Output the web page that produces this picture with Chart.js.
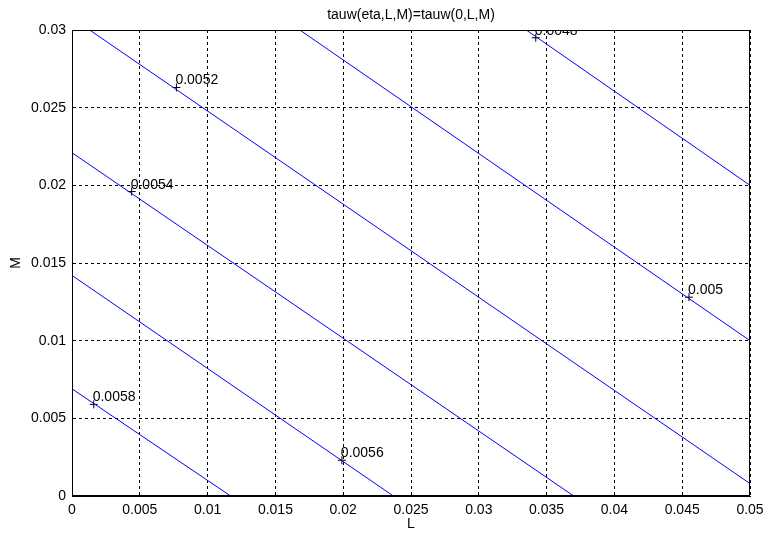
<!DOCTYPE html>
<html>
<head>
<meta charset="utf-8">
<script src="https://cdn.jsdelivr.net/npm/chart.js@4"></script>
<style>
  html, body { margin: 0; padding: 0; background: #fff; }
  #wrap { width: 764px; height: 533px; }
</style>
</head>
<body>
<div id="wrap"><canvas id="chart" width="764" height="533"></canvas></div>
<script>
  // contour levels and where each straight contour crosses the axes box
  const levels     = ['0.0058', '0.0056', '0.0054', '0.0052', '0.005', '0.0048'];
  const lineStartL = [0,      0,      0,      0.0013, 0.0168, 0.0335];
  const lineStartM = [0.0069, 0.0142, 0.0221, 0.03,   0.03,   0.03];
  const lineEndL   = [0.0117, 0.0237, 0.0370, 0.05,   0.05,   0.05];
  const lineEndM   = [0,      0,      0,      0.0008, 0.0100, 0.0200];

  // clabel '+' markers
  const markL = [0.0016, 0.0199, 0.0044, 0.0077, 0.0455, 0.0342];
  const markM = [0.0059, 0.0023, 0.0196, 0.0263, 0.0128, 0.0295];

  const L_TICKS = [0, 0.005, 0.01, 0.015, 0.02, 0.025, 0.03, 0.035, 0.04, 0.045, 0.05];
  const M_TICKS = [0, 0.005, 0.01, 0.015, 0.02, 0.025, 0.03];

  const FONT = { family: "'Liberation Sans', Arial, sans-serif", size: 14 };
  const INK  = '#000';

  const datasets = levels.map((lv, i) => ({
    label: lv,
    data: [
      { x: lineStartL[i], y: lineStartM[i] },
      { x: lineEndL[i],   y: lineEndM[i] },
    ],
    showLine: true,
    borderColor: '#0000ff',
    borderWidth: 1,
    pointRadius: 0,
    fill: false,
  }));

  datasets.push({
    label: 'marks',
    data: markL.map((l, i) => ({ x: l, y: markM[i] })),
    showLine: false,
    pointStyle: 'cross',
    pointRadius: 4,
    pointBorderColor: INK,
    pointBorderWidth: 1,
  });

  const clabels = {
    id: 'clabels',
    afterDatasetsDraw(chart) {
      const { ctx, chartArea: a, scales } = chart;
      ctx.save();
      ctx.beginPath();
      ctx.rect(a.left, a.top, a.right - a.left, a.bottom - a.top);
      ctx.clip();
      ctx.fillStyle = INK;
      ctx.font = FONT.size + 'px ' + FONT.family;
      ctx.textAlign = 'left';
      ctx.textBaseline = 'alphabetic';
      markL.forEach((l, i) => {
        const px = scales.x.getPixelForValue(l);
        const py = scales.y.getPixelForValue(markM[i]);
        ctx.fillText(levels[i], px - 1, py - 3);
      });
      ctx.restore();
    },
  };

  const frame = {
    id: 'frame',
    afterDraw(chart) {
      const { ctx, chartArea: a } = chart;
      ctx.save();
      ctx.strokeStyle = INK;
      ctx.lineWidth = 1;
      ctx.strokeRect(Math.round(a.left) + 0.5, Math.round(a.top) + 0.5,
                     Math.round(a.right - a.left) - 1, Math.round(a.bottom - a.top) - 1);
      ctx.restore();
    },
  };

  const fmt = v => String(+v.toFixed(4));

  // fixed axis box: end labels may overhang without shrinking the plot
  function fixX(s) {
    s.height = 37;
    s.paddingLeft = 0;
    s.paddingRight = 0;
  }
  function fixY(s) {
    s.width = 72;
    s.paddingTop = 0;
    s.paddingBottom = 0;
  }

  new Chart(document.getElementById('chart'), {
    type: 'scatter',
    data: { datasets },
    plugins: [clabels, frame],
    options: {
      responsive: false,
      animation: false,
      devicePixelRatio: 1,
      layout: { padding: { top: 0, right: 14, left: 0, bottom: 0 } },
      plugins: {
        legend: { display: false },
        tooltip: { enabled: false },
        title: {
          display: true,
          text: 'tauw(eta,L,M)=tauw(0,L,M)',
          color: INK,
          fullSize: false,
          font: { ...FONT, weight: 'normal' },
          padding: { top: 6.6, bottom: 6.6 },
        },
      },
      scales: {
        x: {
          type: 'linear',
          min: 0, max: 0.05,
          afterBuildTicks: s => { s.ticks = L_TICKS.map(v => ({ value: v })); },
          afterFit: fixX,
          ticks: { color: INK, font: FONT, padding: 6, maxRotation: 0, autoSkip: false, callback: fmt },
          grid: { color: INK, lineWidth: 1, drawTicks: false },
          border: { display: true, color: INK, width: 1, dash: [3, 3] },
          title: { display: true, text: 'L', color: INK, font: FONT, padding: { top: 0, bottom: 0 } },
        },
        y: {
          type: 'linear',
          min: 0, max: 0.03,
          afterBuildTicks: s => { s.ticks = M_TICKS.map(v => ({ value: v })); },
          afterFit: fixY,
          ticks: { color: INK, font: FONT, padding: 6, autoSkip: false, callback: fmt },
          grid: { color: INK, lineWidth: 1, drawTicks: false },
          border: { display: true, color: INK, width: 1, dash: [3, 3] },
          title: { display: true, text: 'M', color: INK, font: FONT, padding: { top: 8, bottom: 0 } },
        },
      },
    },
  });
</script>
</body>
</html>
